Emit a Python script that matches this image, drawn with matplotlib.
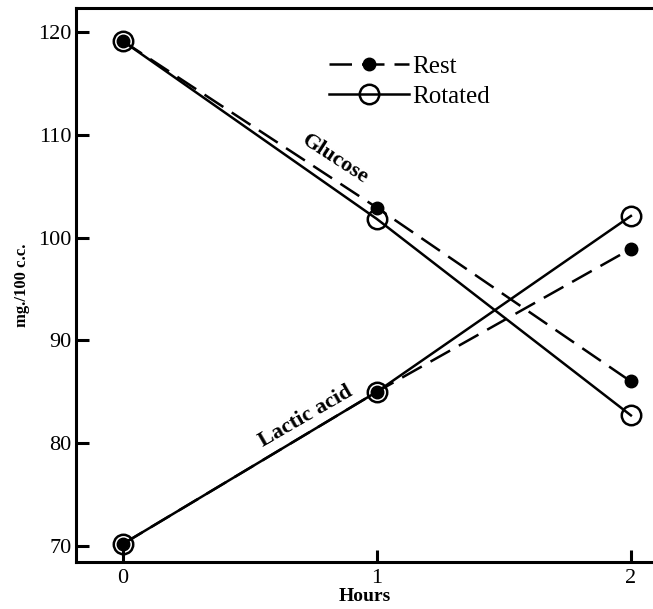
import matplotlib
matplotlib.use("Agg")
import matplotlib.pyplot as plt

hours = [0, 1, 2]
glucose_rest = [119.1, 102.9, 86.0]
glucose_rotated = [119.1, 101.8, 82.7]
lactic_rest = [70.2, 85.0, 98.9]
lactic_rotated = [70.2, 85.0, 102.1]
yticks = [70, 80, 90, 100, 110, 120]
xticks = [0, 1, 2]

plt.rcParams['font.family'] = ['Liberation Serif', 'DejaVu Serif']

fig = plt.figure(figsize=(6.53, 6.09), dpi=100)
ax = fig.add_axes([0.1164, 0.0772, 0.8836, 0.9097])

dash_kw = dict(color='black', lw=1.8, linestyle=(0, (9, 4)),
               marker='o', markersize=9, markerfacecolor='black')
solid_kw = dict(color='black', lw=1.8, linestyle='-',
                marker='o', markersize=14, markerfacecolor='none',
                markeredgewidth=1.8)

l1, = ax.plot(hours, glucose_rest, **dash_kw)
l2, = ax.plot(hours, glucose_rotated, **solid_kw)
ax.plot(hours, lactic_rest, **dash_kw)
ax.plot(hours, lactic_rotated, **solid_kw)

ax.set_xlim(-0.185, 2.087)
ax.set_ylim(68.44, 122.33)
ax.set_xticks(xticks)
ax.set_yticks(yticks)
ax.spines['right'].set_visible(False)
for s in ['left', 'bottom', 'top']:
    ax.spines[s].set_linewidth(2.2)
ax.tick_params(direction='in', length=9, width=2.2, labelsize=16, pad=3)
ax.tick_params(axis='x', pad=5)
ax.set_xlabel('Hours', fontsize=14, fontweight='bold', labelpad=0)
ax.set_ylabel('mg./100 c.c.', fontsize=12, fontweight='bold', labelpad=6)

ax.text(0.835, 107.6, 'Glucose', rotation=-33, fontsize=16, fontweight='bold',
        ha='center', va='center')
ax.text(0.72, 82.6, 'Lactic acid', rotation=30, fontsize=16, fontweight='bold',
        ha='center', va='center')

ax.legend([l1, l2], ['Rest', 'Rotated'], loc='upper left',
          bbox_to_anchor=(0.4, 0.955), frameon=False, fontsize=18,
          handlelength=3.2, handletextpad=0.1, labelspacing=0.3)

fig.savefig('out.png', dpi=100)
